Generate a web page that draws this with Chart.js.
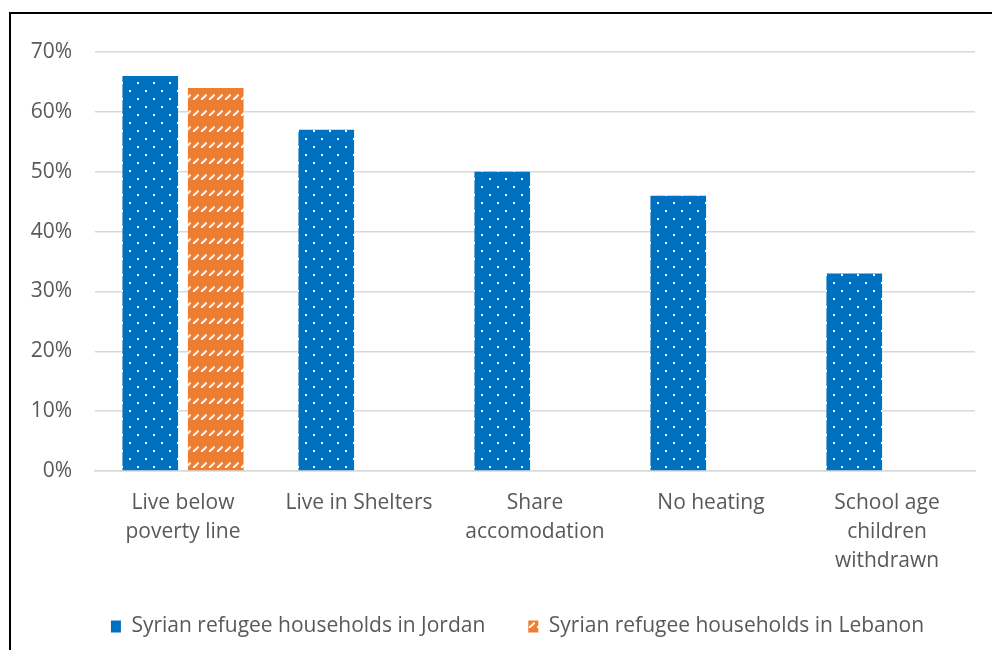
<!DOCTYPE html>
<html>
<head>
<meta charset="utf-8">
<script src="https://cdn.jsdelivr.net/npm/chart.js@4"></script>
<style>
  html, body { margin: 0; padding: 0; background: #fff; overflow: hidden; }
  #frame { position: absolute; left: 9px; top: 12px; width: 1100px; height: 800px;
           border-left: 2px solid #000; border-top: 2px solid #000; }
  #wrap { position: absolute; left: 0; top: 0; width: 992px; height: 650px; }
</style>
</head>
<body>
<div id="frame"></div>
<div id="wrap"><canvas id="bar-chart" width="992" height="650"></canvas></div>
<script>
const categories = [
    ['Live below', 'poverty line'],
    'Live in Shelters',
    ['Share', 'accomodation'],
    'No heating',
    ['School age', 'children', 'withdrawn'],
];
const jordanValues = [66, 57, 50, 46, 33];
const lebanonValues = [64, null, null, null, null];
const seriesNames = ['Syrian refugee households in Jordan', 'Syrian refugee households in Lebanon'];
const yTicks = [0, 10, 20, 30, 40, 50, 60, 70];

const colors = {
    blue: '#0070c0',
    orange: '#ed7d31',
    text: '#595959',
    grid: '#d9d9d9',
};

// white dots on blue
const dotPattern = () => {
    const c = document.createElement('canvas');
    c.width = 16; c.height = 16;
    const g = c.getContext('2d');
    g.fillStyle = colors.blue;
    g.fillRect(0, 0, 16, 16);
    g.fillStyle = '#ffffff';
    g.fillRect(9, 2, 2, 2);
    g.fillRect(1, 10, 2, 2);
    return g.createPattern(c, 'repeat');
};

// dashed upward diagonal on orange
const dashPattern = () => {
    const c = document.createElement('canvas');
    c.width = 8; c.height = 16;
    const g = c.getContext('2d');
    g.fillStyle = colors.orange;
    g.fillRect(0, 0, 8, 16);
    g.fillStyle = '#ffffff';
    [-1, 15].forEach(y0 => {
        for (let i = 0; i < 4; i++) {
            g.fillRect(1 + i * 1.3, y0 + 3 - i * 1.2, 2, 2);
        }
    });
    return g.createPattern(c, 'repeat');
};

const font = { family: "'Open Sans', sans-serif", size: 21 };

const config = {
    type: 'bar',
    data: {
        labels: categories,
        datasets: [
            {
                label: seriesNames[0],
                data: jordanValues,
                backgroundColor: dotPattern(),
                borderWidth: 0,
                categoryPercentage: 0.744,
                barPercentage: 0.85,
            },
            {
                label: seriesNames[1],
                data: lebanonValues,
                backgroundColor: dashPattern(),
                borderWidth: 0,
                categoryPercentage: 0.744,
                barPercentage: 0.85,
            },
        ]
    },
    options: {
        responsive: false,
        animation: false,
        layout: { padding: { left: 28, right: -15, top: 52, bottom: 3 } },
        plugins: {
            tooltip: { enabled: false },
            legend: {
                position: 'bottom',
                labels: {
                    color: colors.text,
                    font,
                    boxWidth: 10,
                    boxHeight: 12,
                    padding: 43,
                }
            }
        },
        scales: {
            x: {
                grid: { display: false, drawTicks: false },
                border: { display: true, color: colors.grid, width: 1.5 },
                ticks: { color: colors.text, font: { ...font, lineHeight: 1.38 }, padding: 18, maxRotation: 0, autoSkip: false },
                afterFit: (s) => { s.height = 102; },
            },
            y: {
                min: 0,
                max: 70,
                grid: { color: colors.grid, lineWidth: 1.5, drawTicks: false },
                border: { display: false },
                afterBuildTicks: (s) => { s.ticks = yTicks.map(v => ({ value: v })); },
                ticks: { color: colors.text, font, padding: 23, callback: (v) => v + '%' },
                afterFit: (s) => { s.width = 67; },
            },
            // empty axis on the right, only to keep the plot edge in place
            y2: {
                position: 'right',
                min: 0,
                max: 70,
                grid: { display: false, drawTicks: false },
                border: { display: false },
                ticks: { display: false },
                afterFit: (s) => { s.width = 32; },
            }
        }
    }
};

new Chart(document.getElementById('bar-chart'), config);
</script>
</body>
</html>
